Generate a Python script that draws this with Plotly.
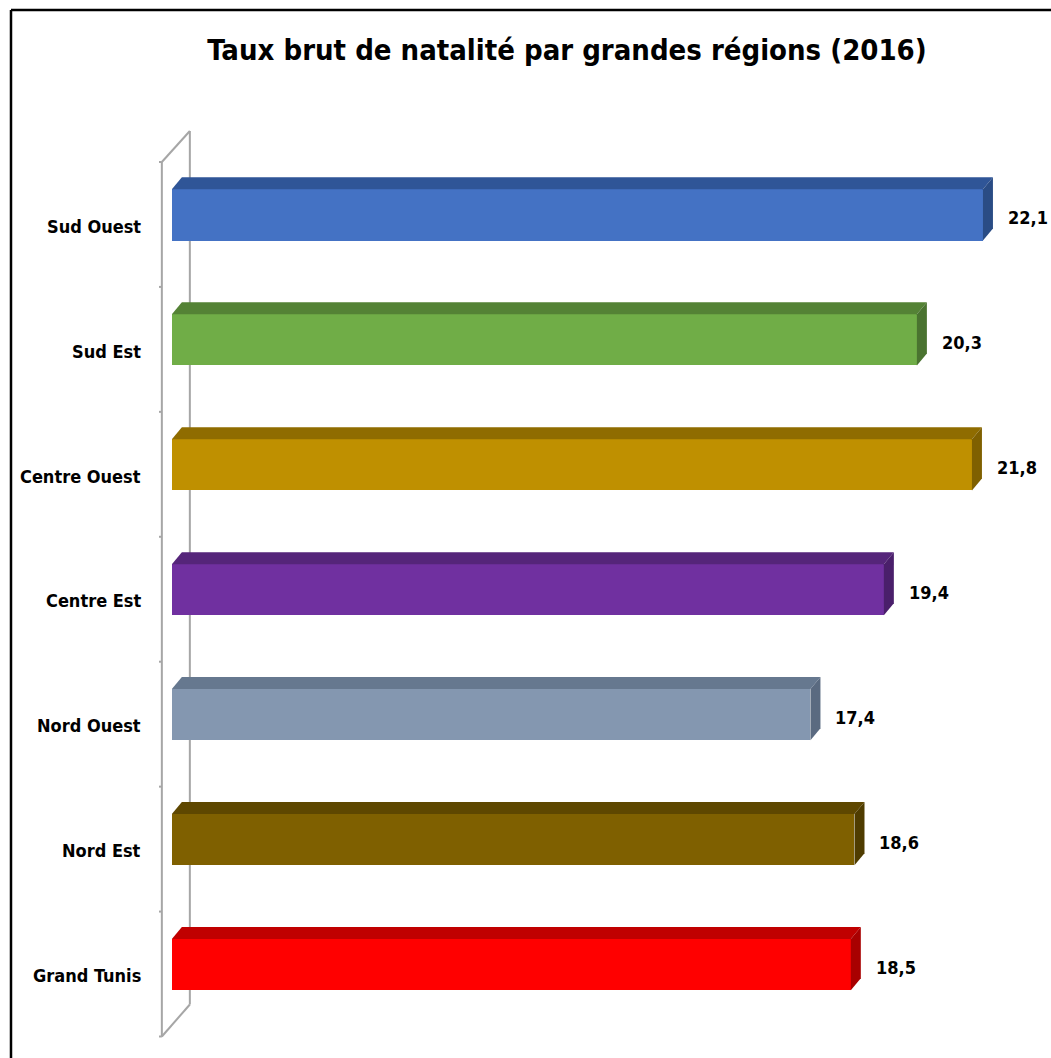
import plotly.graph_objects as go

categories = ["Grand Tunis", "Nord Est", "Nord Ouest", "Centre Est", "Centre Ouest", "Sud Est", "Sud Ouest"]
values = [18.5, 18.6, 17.4, 19.4, 21.8, 20.3, 22.1]
value_labels = ["18,5", "18,6", "17,4", "19,4", "21,8", "20,3", "22,1"]
front_colors = ["#FF0000", "#7F6000", "#8497B0", "#7030A0", "#BF9000", "#70AD47", "#4472C4"]
top_colors = ["#C00000", "#5E4700", "#66788F", "#55257A", "#8F6C00", "#548235", "#2F5597"]
side_colors = ["#A80000", "#4F3C00", "#5A6A80", "#4A1F6B", "#7F6000", "#4A7330", "#2A4C85"]
title = "Taux brut de natalité par grandes régions (2016)"

W, H = 1051, 1058
px_per_x = 36.7
px_per_y = 125.0
x_range = [-0.35, 23.6]
y_range = [-0.62, 6.72]
l = 159
plot_w = (x_range[1] - x_range[0]) * px_per_x
plot_h = (y_range[1] - y_range[0]) * px_per_y
t = 125
r = W - l - plot_w
b = H - t - plot_h

half = 0.205
dx = 10 / px_per_x
dy = 12 / px_per_y
font = "Liberation Sans Narrow, DejaVu Sans Condensed, Arial Narrow, sans-serif"

fig = go.Figure()
ys = list(range(len(categories)))

# front faces
fig.add_trace(go.Bar(
    y=ys, x=values, orientation="h", width=2 * half,
    marker=dict(color=front_colors, line=dict(width=0)),
    hoverinfo="skip", showlegend=False,
))

# top and side faces (3D effect) computed from values
for i, v in enumerate(values):
    c = ys[i]
    fig.add_trace(go.Scatter(
        x=[0, v, v + dx, dx, 0], y=[c + half, c + half, c + half + dy, c + half + dy, c + half],
        fill="toself", fillcolor=top_colors[i], mode="lines", line=dict(width=0, color=top_colors[i]),
        hoverinfo="skip", showlegend=False,
    ))
    fig.add_trace(go.Scatter(
        x=[v, v + dx, v + dx, v, v], y=[c - half, c - half + dy, c + half + dy, c + half, c - half],
        fill="toself", fillcolor=side_colors[i], mode="lines", line=dict(width=0, color=side_colors[i]),
        hoverinfo="skip", showlegend=False,
    ))

label_x_paper = (143 - l) / plot_w
annotations = []
for i, v in enumerate(values):
    annotations.append(dict(
        x=v, y=ys[i], xref="x", yref="y", text="<b>" + value_labels[i] + "</b>", showarrow=False,
        xanchor="left", yanchor="middle", xshift=23, yshift=-3,
        font=dict(family=font, size=18, color="#000000"),
    ))
    annotations.append(dict(
        x=label_x_paper, y=ys[i] - 0.09, xref="paper", yref="y", text="<b>" + categories[i] + "</b>",
        showarrow=False, xanchor="right", yanchor="middle",
        font=dict(family=font, size=18, color="#000000"),
    ))

# 3D wall outline (axis decoration)
front_x = (162 - 172) / px_per_x
back_x = (190 - 172) / px_per_x
f_lo, f_hi = -0.576, 6.424
b_lo, b_hi = -0.32, 6.672
wall = "#A6A6A6"
shapes = [
    dict(type="line", xref="x", yref="y", x0=front_x, x1=front_x, y0=f_lo, y1=f_hi, line=dict(color=wall, width=2), layer="below"),
    dict(type="line", xref="x", yref="y", x0=back_x, x1=back_x, y0=b_lo, y1=b_hi, line=dict(color=wall, width=2), layer="below"),
    dict(type="line", xref="x", yref="y", x0=front_x, x1=back_x, y0=f_hi, y1=b_hi, line=dict(color=wall, width=2), layer="below"),
    dict(type="line", xref="x", yref="y", x0=front_x, x1=back_x, y0=f_lo, y1=b_lo, line=dict(color=wall, width=2), layer="below"),
]
tick_len = 5 / px_per_x
for k in range(len(categories) + 1):
    yy = k - 0.576
    shapes.append(dict(type="line", xref="x", yref="y", x0=front_x - tick_len, x1=front_x, y0=yy, y1=yy,
                       line=dict(color=wall, width=2), layer="below"))

# outer black border (top and left edges)
shapes.append(dict(type="line", xref="paper", yref="paper",
                   x0=(11 - l) / plot_w, x1=(W + 5 - l) / plot_w, y0=(H - 10 - b) / plot_h, y1=(H - 10 - b) / plot_h,
                   line=dict(color="#000000", width=2.5), layer="above"))
shapes.append(dict(type="line", xref="paper", yref="paper",
                   x0=(11 - l) / plot_w, x1=(11 - l) / plot_w, y0=(-5 - b) / plot_h, y1=(H - 10 - b) / plot_h,
                   line=dict(color="#000000", width=2.5), layer="above"))

fig.update_layout(
    width=W, height=H,
    margin=dict(l=l, r=r, t=t, b=b, pad=0),
    paper_bgcolor="white", plot_bgcolor="white",
    title=dict(text="<b>" + title + "</b>", x=567 / W, xanchor="center", y=1 - 50 / H, yanchor="middle",
               font=dict(family=font, size=29, color="#000000")),
    xaxis=dict(range=x_range, visible=False, fixedrange=True),
    yaxis=dict(range=y_range, visible=False, fixedrange=True),
    bargap=0, annotations=annotations, shapes=shapes, showlegend=False,
)

fig.write_html("out.html", config={"displayModeBar": False},
               post_script="document.body.style.margin='0';document.body.style.overflow='hidden';")
